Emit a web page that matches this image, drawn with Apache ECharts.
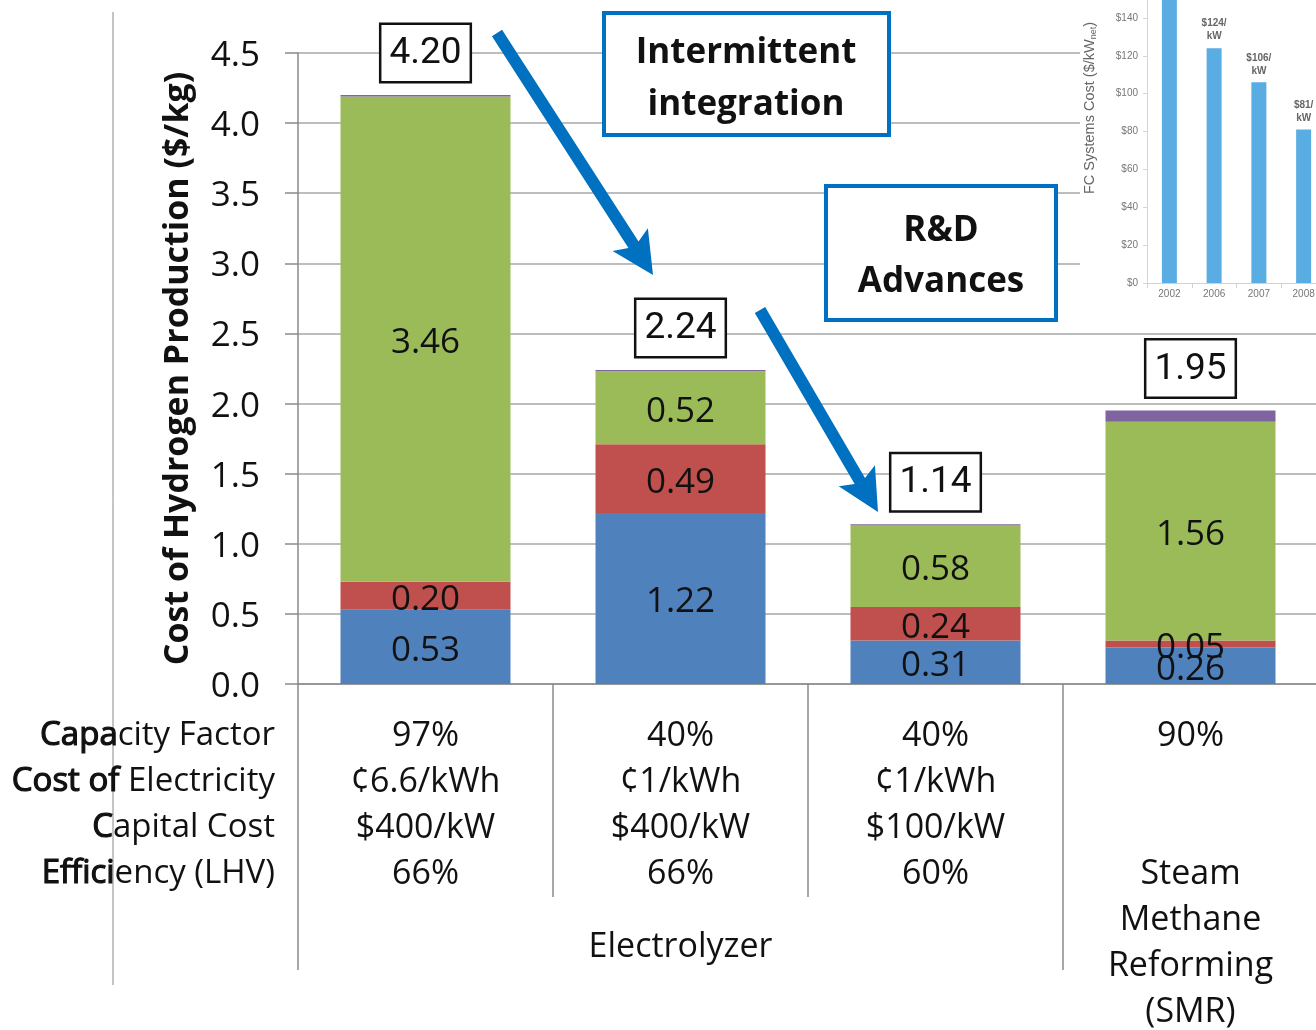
<!DOCTYPE html>
<html>
<head>
<meta charset="utf-8">
<script src="https://cdn.jsdelivr.net/npm/echarts@6/dist/echarts.min.js"></script>
<style>
  html, body { margin: 0; padding: 0; background: #fff; }
  #chart { width: 1316px; height: 1030px; }
</style>
</head>
<body>
<div id="chart"></div>
<script>
// Hydrogen production cost by case ($/kg), stacked by cost component
const capitalCost   = [0.53, 1.22, 0.31, 0.26];
const fixedOM       = [0.20, 0.49, 0.24, 0.05];
const feedstockCost = [3.46, 0.52, 0.58, 1.56];
const otherCost     = [0.01, 0.01, 0.01, 0.08];

// Case descriptions shown under each bar
const capacityFactor  = ['97%', '40%', '40%', '90%'];
const electricityCost = ['¢6.6/kWh', '¢1/kWh', '¢1/kWh', ''];
const capitalPerKW    = ['$400/kW', '$400/kW', '$100/kW', ''];
const efficiencyLHV   = ['66%', '66%', '60%', ''];
const processName     = ['', '', '', 'Steam\nMethane\nReforming\n(SMR)'];
const rowLabels = ['Capacity Factor', 'Cost of Electricity', 'Capital Cost', 'Efficiency (LHV)'];
const groupLabel = 'Electrolyzer';

// Fuel cell system cost inset
const fcYears = ['2002', '2006', '2007', '2008'];
const fcCost  = [275, 124, 106, 81];

const FONT = "'Open Sans', 'Noto Sans', sans-serif";
const BLUE_ARROW = '#0070C0';

const categories = capacityFactor.map((c, i) =>
  [c, electricityCost[i], capitalPerKW[i], efficiencyLHV[i] || processName[i]].join('\n'));
const totals = capitalCost.map((v, i) => v + fixedOM[i] + feedstockCost[i] + otherCost[i]);

const chart = echarts.init(document.getElementById('chart'));

function insideLabel() {
  return {
    show: true, position: 'inside', offset: [0, 4], color: '#111', fontSize: 35, fontFamily: FONT,
    textBorderWidth: 0, formatter: p => p.value.toFixed(2)
  };
}

function stackSeries(name, data, color, label) {
  return {
    name, type: 'bar', stack: 'cost', data, barWidth: 170,
    xAxisIndex: 0, yAxisIndex: 0, z: 2,
    itemStyle: { color },
    label: label
  };
}

chart.setOption({
  animation: false,
  backgroundColor: '#fff',
  grid: [
    { left: 298, top: 53, width: 1020, height: 631, outerBoundsMode: 'none', containLabel: false },
    { left: 1147, top: -20, width: 179, height: 303, outerBoundsMode: 'none', containLabel: false }
  ],
  xAxis: [
    {
      type: 'category', gridIndex: 0, data: categories,
      axisLine: { lineStyle: { color: '#8a8a8a', width: 1.5 } },
      axisTick: { show: true, interval: 0, length: 213, lineStyle: { color: '#8a8a8a', width: 1.5 } },
      axisLabel: { interval: 0, color: '#111', fontSize: 34, fontFamily: FONT, lineHeight: 46, margin: 29 }
    },
    {
      type: 'category', gridIndex: 1, data: fcYears, z: 3,
      axisLine: { lineStyle: { color: '#d2d2d2' } },
      axisTick: { show: true, lineStyle: { color: '#d2d2d2' } },
      axisLabel: { color: '#777', fontSize: 10, fontFamily: 'Liberation Sans', margin: 6 }
    }
  ],
  yAxis: [
    {
      type: 'value', gridIndex: 0, min: 0, max: 4.5, interval: 0.5,
      name: 'Cost of Hydrogen Production ($/kg)', nameLocation: 'middle', nameGap: 103,
      nameTextStyle: { fontSize: 34, fontWeight: 'bold', color: '#111', fontFamily: FONT },
      axisLine: { show: true, lineStyle: { color: '#8a8a8a', width: 1.5 } },
      axisTick: { show: true, length: 13, lineStyle: { color: '#8a8a8a', width: 1.5 } },
      axisLabel: {
        color: '#111', fontSize: 35, fontFamily: FONT, margin: 38,
        formatter: v => '{v|' + v.toFixed(1) + '}',
        rich: { v: { color: '#111', fontSize: 35, fontFamily: FONT, padding: [6, 0, 0, 0] } }
      },
      splitLine: { lineStyle: { color: '#bdbdbd', width: 2 } }
    },
    {
      type: 'value', gridIndex: 1, min: 0, max: 160, interval: 20, z: 3,
      axisLine: { show: true, lineStyle: { color: '#d6d6d6' } },
      axisTick: { show: true, length: 4, lineStyle: { color: '#d6d6d6' } },
      axisLabel: { color: '#777', fontSize: 10, fontFamily: 'Liberation Sans', margin: 9, formatter: v => '$' + v },
      splitLine: { show: false }
    }
  ],
  series: [
    stackSeries('Capital', capitalCost, '#4F81BD', insideLabel()),
    stackSeries('Fixed O&M', fixedOM, '#C0504D', insideLabel()),
    stackSeries('Feedstock', feedstockCost, '#9BBB59', insideLabel()),
    stackSeries('Other', otherCost, '#8064A2', {
      show: true, position: 'top', distance: 14,
      formatter: p => totals[p.dataIndex].toFixed(2),
      color: '#111', fontSize: 37, fontFamily: 'Roboto, ' + FONT, lineHeight: 40,
      backgroundColor: '#fff', borderColor: '#111', borderWidth: 2.5,
      padding: [9, 8, 7, 8], textBorderWidth: 0
    }),
    {
      name: 'FC Systems Cost', type: 'bar', data: fcCost, xAxisIndex: 1, yAxisIndex: 1,
      barWidth: 15, z: 4,
      itemStyle: { color: '#5aade3' },
      label: {
        show: true, position: 'top', distance: 5, color: '#666', fontSize: 10,
        fontWeight: 'bold', fontFamily: 'Liberation Sans', lineHeight: 13,
        formatter: p => '$' + p.value + '/\nkW'
      }
    }
  ]
});

// Annotation layer: case separators, group label, row captions, callouts and arrows
function arrowShape(x1, y1, x2, y2, shaftW, headL, headW, notch) {
  const dx = x2 - x1, dy = y2 - y1, len = Math.hypot(dx, dy);
  const ux = dx / len, uy = dy / len, nx = -uy, ny = ux;
  const pt = (bx, by, a, b) => [bx + ux * a + nx * b, by + uy * a + ny * b];
  return [
    pt(x1, y1, 0, shaftW / 2),
    pt(x2, y2, -(headL - notch), shaftW / 2),
    pt(x2, y2, -headL, headW / 2),
    [x2, y2],
    pt(x2, y2, -headL, -headW / 2),
    pt(x2, y2, -(headL - notch), -shaftW / 2),
    pt(x1, y1, 0, -shaftW / 2)
  ];
}

const c0 = chart.convertToPixel({ xAxisIndex: 0 }, 0);
const c1 = chart.convertToPixel({ xAxisIndex: 0 }, 1);
const band = c1 - c0;
const bound = i => c0 - band / 2 + band * i;
const axisY = chart.convertToPixel({ yAxisIndex: 0 }, 0);
const lineStyle = { stroke: '#8a8a8a', lineWidth: 1.5 };

chart.setOption({
  graphic: [
    // white panel behind the inset chart
    { type: 'rect', z: 1, silent: true, shape: { x: 1080, y: 0, width: 240, height: 298 }, style: { fill: '#fff' } },
    { type: 'text', z: 3, x: 1090, y: 108, rotation: Math.PI / 2,
      style: { text: '{t|FC Systems Cost ($/kW}{s|net}{t|)}', align: 'center', verticalAlign: 'middle',
        rich: {
          t: { fontSize: 14.5, fill: '#666', fontFamily: 'Liberation Sans', lineHeight: 18 },
          s: { fontSize: 9, fill: '#666', fontFamily: 'Liberation Sans', lineHeight: 18, padding: [8, 0, 0, 0] }
        } } },
    // longer separators that bound the group row
    { type: 'line', z: 5, shape: { x1: bound(0), y1: axisY + 213, x2: bound(0), y2: axisY + 286 }, style: lineStyle },
    { type: 'line', z: 5, shape: { x1: bound(3), y1: axisY + 213, x2: bound(3), y2: axisY + 286 }, style: lineStyle },
    { type: 'line', z: 5, shape: { x1: 113, y1: 12, x2: 113, y2: 985 }, style: { stroke: '#8a8a8a', lineWidth: 1 } },
    { type: 'text', z: 5, x: (bound(0) + bound(3)) / 2, y: 947,
      style: { text: groupLabel, align: 'center', verticalAlign: 'middle', fontSize: 34, fontFamily: FONT, fill: '#111' } },
    // row captions for the case descriptions
    { type: 'text', z: 5, x: 275, y: 713,
      style: {
        text: '{b|Capa}city Factor\n{b|Cost of} Electricity\n{b|C}apital Cost\n{b|Effici}ency (LHV)',
        align: 'right', verticalAlign: 'top', fontSize: 33, fontFamily: FONT, fill: '#111', lineHeight: 46,
        rich: { b: { fontSize: 33, fontFamily: FONT, fill: '#111', lineHeight: 46, stroke: '#111', lineWidth: 1.2 } }
      } },
    // callout boxes
    { type: 'rect', z: 8, shape: { x: 604, y: 13, width: 285, height: 122 },
      style: { fill: '#fff', stroke: BLUE_ARROW, lineWidth: 4 } },
    { type: 'text', z: 9, x: 746, y: 79,
      style: { text: 'Intermittent\nintegration', align: 'center', verticalAlign: 'middle',
        fontSize: 35, fontWeight: 'bold', fontFamily: FONT, fill: '#111', lineHeight: 52 } },
    { type: 'rect', z: 8, shape: { x: 826, y: 186, width: 230, height: 134 },
      style: { fill: '#fff', stroke: BLUE_ARROW, lineWidth: 4 } },
    { type: 'text', z: 9, x: 941, y: 257,
      style: { text: 'R&D\nAdvances', align: 'center', verticalAlign: 'middle',
        fontSize: 35, fontWeight: 'bold', fontFamily: FONT, fill: '#111', lineHeight: 51 } },
    // arrows
    { type: 'polygon', z: 10, shape: { points: arrowShape(497, 33, 653, 275, 12, 42, 42, 6) }, style: { fill: BLUE_ARROW } },
    { type: 'polygon', z: 10, shape: { points: arrowShape(760, 310, 878, 512, 12, 42, 42, 6) }, style: { fill: BLUE_ARROW } }
  ]
});
</script>
</body>
</html>
